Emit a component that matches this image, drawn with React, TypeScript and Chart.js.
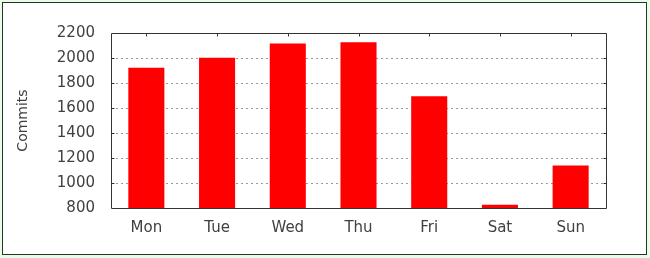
import React, { useEffect, useRef } from "react";
import { Chart, registerables } from "chart.js";

Chart.register(...registerables);

const days = ["Mon", "Tue", "Wed", "Thu", "Fri", "Sat", "Sun"];
const commits = [1922, 2002, 2116, 2126, 1695, 826, 1140];
const yMin = 800;
const yMax = 2200;
const yStep = 200;
const yTitle = "Commits";

const frame = {
  id: "frame",
  beforeDraw(chart: any) {
    const { ctx, width, height } = chart;
    ctx.save();
    ctx.fillStyle = "#ebfaeb";
    ctx.fillRect(0, 0, width, height);
    ctx.fillStyle = "#ffffff";
    ctx.fillRect(2.5, 2.5, 644, 252);
    ctx.strokeStyle = "#1d3a1d";
    ctx.lineWidth = 1;
    ctx.strokeRect(2.5, 2.5, 644, 252);
    ctx.restore();
  },
  afterDatasetsDraw(chart: any) {
    const { ctx, chartArea } = chart;
    const { left, right, top, bottom } = chartArea;
    const xs = chart.scales.x;
    const ys = chart.scales.y;
    ctx.save();
    ctx.strokeStyle = "#333333";
    ctx.lineWidth = 1;
    ctx.beginPath();
    const L = Math.round(left) + 0.5;
    const R = Math.round(right) + 0.5;
    const T = Math.round(top) + 0.5;
    const B = Math.round(bottom) + 0.5;
    ctx.rect(L, T, R - L, B - T);
    days.forEach((_, i) => {
      const x = Math.round(xs.getPixelForValue(i)) + 0.5;
      ctx.moveTo(x, T);
      ctx.lineTo(x, T + 3);
    });
    for (let v = yMin + yStep; v < yMax; v += yStep) {
      const y = Math.round(ys.getPixelForValue(v)) + 0.5;
      ctx.moveTo(L, y);
      ctx.lineTo(L + 3, y);
      ctx.moveTo(R, y);
      ctx.lineTo(R - 3, y);
    }
    ctx.stroke();
    ctx.restore();
  },
};

export default function App() {
  const ref = useRef<HTMLCanvasElement>(null);
  useEffect(() => {
    document.body.style.margin = "0";
    const chart = new Chart(ref.current!, {
      type: "bar",
      data: {
        labels: days,
        datasets: [
          {
            data: commits,
            backgroundColor: "#ff0000",
            borderWidth: 0,
            barPercentage: 0.51,
            categoryPercentage: 1,
          },
        ],
      },
      options: {
        responsive: false,
        animation: false,
        layout: { padding: { left: 10, right: 44, top: 33, bottom: 0 } },
        plugins: {
          legend: { display: false },
          tooltip: { enabled: false },
        },
        scales: {
          x: {
            grid: { display: false, drawTicks: false },
            border: { display: false },
            ticks: {
              padding: 11,
              color: "#404040",
              font: { family: "DejaVu Sans", size: 15 },
            },
            afterFit(s: any) {
              s.height = 50;
            },
          },
          y: {
            min: yMin,
            max: yMax,
            grid: {
              drawTicks: false,
              color: (c: any) =>
                c.tick && (c.tick.value === yMin || c.tick.value === yMax)
                  ? "rgba(0,0,0,0)"
                  : "#9a9a9a",
            },
            border: { display: false, dash: [2, 3] },
            ticks: {
              stepSize: yStep,
              padding: 16,
              color: "#404040",
              font: { family: "DejaVu Sans", size: 15 },
              callback: (v: any) => String(v),
            },
            title: {
              display: true,
              text: yTitle,
              color: "#404040",
              font: { family: "DejaVu Sans", size: 14 },
              padding: { top: 5, bottom: 0 },
            },
            afterFit(s: any) {
              s.width = 101;
            },
          },
        },
      },
      plugins: [frame],
    });
    return () => chart.destroy();
  }, []);
  return (
    <div style={{ width: 650, height: 258 }}>
      <canvas ref={ref} width={650} height={258} />
    </div>
  );
}
